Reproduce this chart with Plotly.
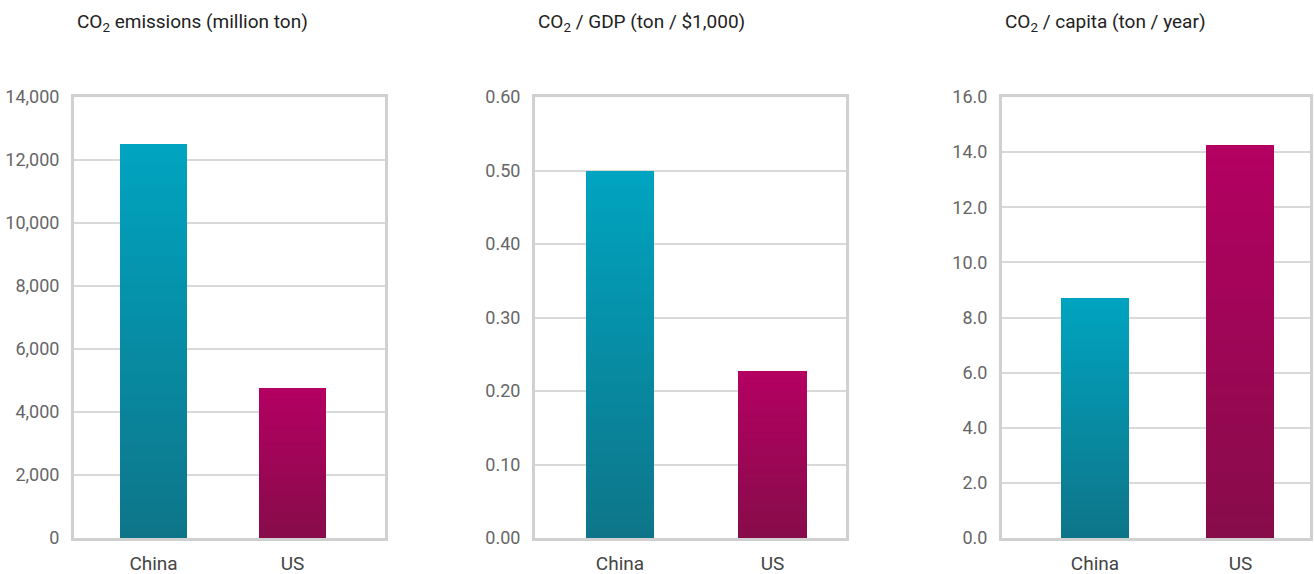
import plotly.graph_objects as go

categories = ["China", "US"]
emissions = [12500, 4760]          # million ton
per_gdp = [0.50, 0.227]            # ton / $1,000
per_capita = [8.7, 14.25]          # ton / year

titles = ["CO<sub>2</sub> emissions (million ton)",
          "CO<sub>2</sub> / GDP (ton / $1,000)",
          "CO<sub>2</sub> / capita (ton / year)"]
tick_vals = [
    [0, 2000, 4000, 6000, 8000, 10000, 12000, 14000],
    [0, 0.1, 0.2, 0.3, 0.4, 0.5, 0.6],
    [0, 2, 4, 6, 8, 10, 12, 14, 16],
]
tick_text = [
    ["0", "2,000", "4,000", "6,000", "8,000", "10,000", "12,000", "14,000"],
    ["0.00", "0.10", "0.20", "0.30", "0.40", "0.50", "0.60"],
    ["0.0", "2.0", "4.0", "6.0", "8.0", "10.0", "12.0", "14.0", "16.0"],
]
y_max = [14000, 0.6, 16]

# gradient endpoints (bottom, top)
china_grad = ((14, 117, 137), (0, 164, 192))
us_grad = ((135, 12, 74), (180, 0, 98))

W, H = 1314, 574
x_domains = [(74, 385), (535, 846), (1002, 1310)]
x_ranges = [(-0.572, 1.665), (-0.557, 1.482), (-0.639, 1.478)]
bar_widths = [0.482, 0.446, 0.467]
y_dom = ((H - 538) / H, (H - 97) / H)
N = 60

def lerp(c0, c1, t):
    return "rgb(%d,%d,%d)" % tuple(round(a + (b - a) * t) for a, b in zip(c0, c1))

fig = go.Figure()
series = [emissions, per_gdp, per_capita]
for i, vals in enumerate(series):
    xa = "x" if i == 0 else "x%d" % (i + 1)
    ya = "y" if i == 0 else "y%d" % (i + 1)
    for k in range(N):
        t = (k + 0.5) / N
        fig.add_trace(go.Bar(
            x=categories, y=[v / N for v in vals],
            marker=dict(color=[lerp(*china_grad, t), lerp(*us_grad, t)], line=dict(width=0)),
            width=bar_widths[i], xaxis=xa, yaxis=ya, showlegend=False, hoverinfo="skip",
        ))

layout = dict(
    width=W, height=H, margin=dict(l=0, r=0, t=0, b=0, autoexpand=False),
    plot_bgcolor="white", paper_bgcolor="white", barmode="stack", bargap=0,
    font=dict(family="Roboto", color="#444"),
    annotations=[], showlegend=False,
)
for i in range(3):
    sx = "" if i == 0 else str(i + 1)
    d0, d1 = x_domains[i]
    layout["xaxis" + sx] = dict(
        domain=[d0 / W, d1 / W], anchor="y" + sx, showgrid=False, automargin=False,
        range=list(x_ranges[i]), type="category",
        showline=True, mirror=True, linecolor="#d0d0d0", linewidth=3,
        tickfont=dict(size=19, color="#444"), ticks="", ticklabelstandoff=6,
        fixedrange=True,
    )
    layout["yaxis" + sx] = dict(
        domain=list(y_dom), anchor="x" + sx, range=[0, y_max[i]], automargin=False,
        tickvals=tick_vals[i], ticktext=tick_text[i],
        showgrid=True, gridcolor="#d9d9d9", gridwidth=2,
        showline=True, mirror=True, linecolor="#d0d0d0", linewidth=3,
        zeroline=False, tickfont=dict(size=18, color="#666"), ticks="",
        ticklabelstandoff=8, fixedrange=True,
    )
    layout["annotations"].append(dict(
        text=titles[i], xref="paper", yref="paper",
        x=(d0 + 1) / W, y=(H - 22) / H, xanchor="left", yanchor="middle",
        showarrow=False, font=dict(size=19, color="#222", family="Roboto"),
    ))

fig.update_layout(**layout)
fig.write_html("out.html")
